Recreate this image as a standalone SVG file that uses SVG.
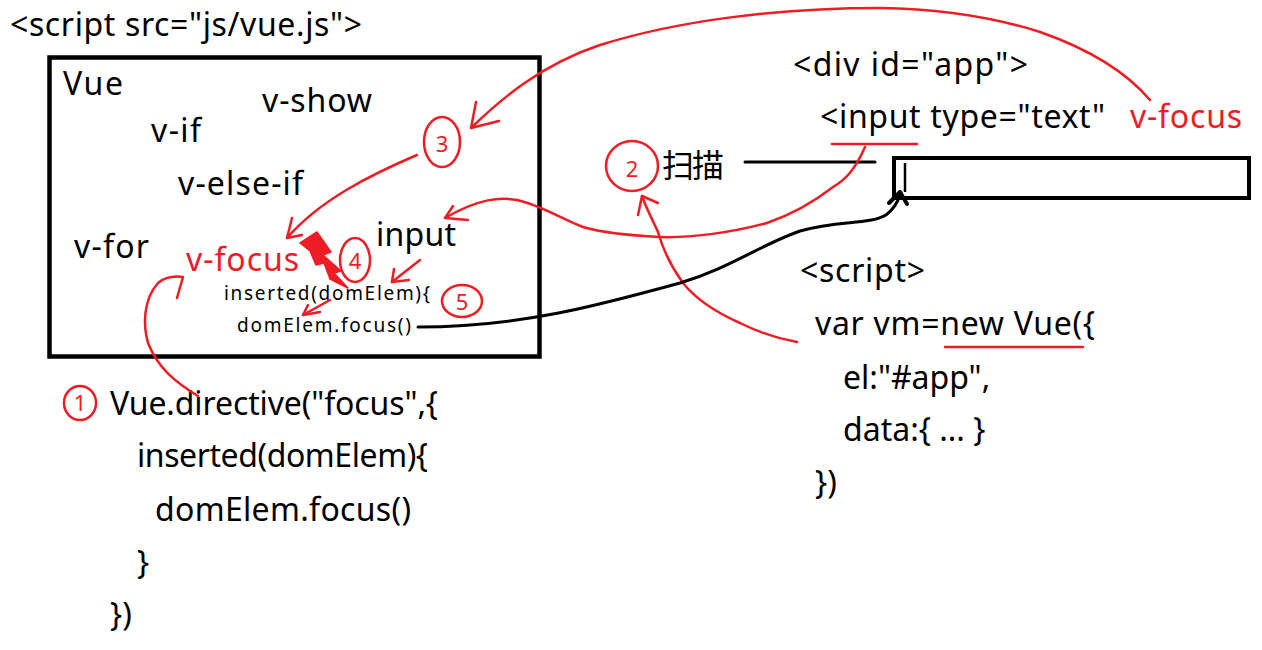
<svg xmlns="http://www.w3.org/2000/svg" width="1262" height="650" viewBox="0 0 1262 650">
<style>
.t{font-family:"Noto Sans","Noto Sans CJK SC",sans-serif;font-size:32px;fill:#000}
.s{font-family:"Noto Sans",sans-serif;font-size:19px;fill:#000}
.r{fill:#ee1c24}
.red{fill:none;stroke:#ee1c24;stroke-width:2.5;stroke-linecap:round;stroke-linejoin:round}
.blk{fill:none;stroke:#000;stroke-width:3;stroke-linecap:round;stroke-linejoin:round}
.n{font-family:"Noto Sans",sans-serif;font-size:22px;fill:#ee1c24}
</style>
<rect width="1262" height="650" fill="#fff"/>
<g id="header"><text class="t" x="10" y="36" textLength="352">&lt;script src="js/vue.js"&gt;</text></g>
<g id="vue-box">
<rect x="49.5" y="57.5" width="490" height="299" fill="none" stroke="#000" stroke-width="4.5"/>
<text class="t" x="63" y="95" textLength="60">Vue</text>
<text class="t" x="262" y="112" textLength="110">v-show</text>
<text class="t" x="151" y="142" textLength="50">v-if</text>
<text class="t" x="178" y="195" textLength="125">v-else-if</text>
<text class="t" x="74" y="258" textLength="75">v-for</text>
<text class="t r" x="186" y="271" textLength="113">v-focus</text>
<text class="t" x="376" y="246" textLength="80">input</text>
<text class="s" x="224" y="300" textLength="206">inserted(domElem){</text>
<text class="s" x="237" y="332" textLength="174">domElem.focus()</text>
</g>
<g id="step1"><ellipse class="red" cx="80" cy="403" rx="16" ry="17"/><text class="n" x="80" y="411" text-anchor="middle">1</text></g>
<g id="step2"><ellipse class="red" cx="632" cy="166" rx="26" ry="25"/><text class="n" x="632" y="177" text-anchor="middle" font-size="30">2</text></g>
<g id="step3"><ellipse class="red" cx="442" cy="142" rx="18" ry="25"/><text class="n" x="442" y="152" text-anchor="middle" font-size="27">3</text></g>
<g id="step4"><ellipse class="red" cx="355" cy="260" rx="15" ry="22"/><text class="n" x="355" y="269" text-anchor="middle" font-size="20">4</text></g>
<g id="step5"><ellipse class="red" cx="462" cy="301" rx="20" ry="16"/><text class="n" x="462" y="310" text-anchor="middle" font-size="22">5</text></g>
<g id="scan"><text class="t" x="662" y="177" font-size="31" textLength="62">扫描</text></g>
<g id="html">
<text class="t" x="793" y="76" textLength="235">&lt;div id="app"&gt;</text>
<text class="t" x="820" y="128" textLength="285">&lt;input type="text"</text>
<text class="t r" x="1130" y="128" textLength="112">v-focus</text>
<rect x="894" y="158" width="355" height="40" fill="none" stroke="#000" stroke-width="4"/>
<line x1="905" y1="163" x2="905" y2="192" stroke="#000" stroke-width="2.5"/>
</g>
<g id="vm-script">
<text class="t" x="800" y="282" textLength="125">&lt;script&gt;</text>
<text class="t" x="815" y="335" textLength="280">var vm=new Vue({</text>
<text class="t" x="843" y="389" font-size="29">el:"#app",</text>
<text class="t" x="843" y="441" font-size="29">data:{ ... }</text>
<text class="t" x="815" y="494">})</text>
</g>
<g id="directive">
<text class="t" x="110" y="415" textLength="328">Vue.directive("focus",{</text>
<text class="t" x="137" y="467" textLength="291">inserted(domElem){</text>
<text class="t" x="155" y="521" textLength="256">domElem.focus()</text>
<text class="t" x="137" y="574">}</text>
<text class="t" x="110" y="626">})</text>
</g>
<g id="connectors">
<line class="red" x1="832" y1="144" x2="917" y2="144"/>
<line class="red" x1="945" y1="347" x2="1083" y2="347"/>
<line class="blk" x1="745" y1="162" x2="875" y2="162" stroke-width="4"/>
<path class="red" d="M1150,100 C1133,80 1100,53 1040,32 C990,16 940,9 880,8 C780,8 680,20 600,45 C540,65 500,100 471,128"/>
<path class="red" d="M476,102 L471,128 L499,121"/>
<path class="red" d="M417,155 C370,175 320,200 287,238"/>
<path class="red" d="M292,218 L287,238 L302,235"/>
<path class="red" d="M865,147 C855,170 845,180 833,187 C810,205 790,215 767,223 C730,233 690,238 660,237 C620,235 600,232 583,227 C560,218 540,205 517,200 C500,197 480,198 445,218"/>
<path class="red" d="M453,206 L445,218 L468,220"/>
<path class="red" d="M797,342 C775,338 760,333 740,323 C715,312 695,298 683,283 C670,265 663,250 658,232 C650,215 645,205 642,196"/>
<path class="red" d="M638,215 L642,196 L658,203"/>
<path class="red" d="M198,396 C175,382 158,368 148,343 C143,325 143,300 158,283 C165,277 175,276 183,277 L177,298"/>
<path class="red" d="M420,260 L392,282"/>
<path class="red" d="M394,269 L392,282 L409,280"/>
<path class="red" d="M330,300 L303,315"/>
<path class="red" d="M308,305 L303,315 L320,312"/>
<path d="M300,243 L317,232 L331,252 L323,255 L341,271 L334,273 L348,288 L330,279 L324,263 L316,265 L310,251 Z" fill="#ee1c24" stroke="#ee1c24" stroke-width="1.5" stroke-linejoin="round"/>
<path class="blk" d="M418,327 C520,327 600,305 680,283 C730,268 760,245 800,231 C840,220 868,225 886,215 C894,209 898,201 900,195"/>
<path d="M889,203 L900,192 L907,204" fill="none" stroke="#000" stroke-width="4" stroke-linecap="round" stroke-linejoin="round"/>
</g>
</svg>
